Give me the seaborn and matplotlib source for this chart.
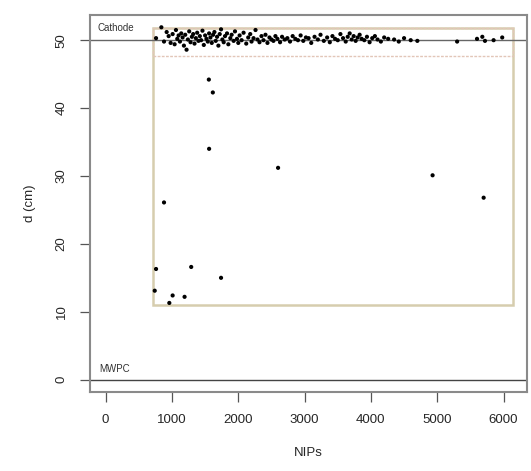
import numpy as np
import pandas as pd
import matplotlib
matplotlib.use("Agg")
import matplotlib.pyplot as plt
from matplotlib.patches import Rectangle
import seaborn as sns

# points sitting near the cathode (d ~ 50 cm)
band_nips = [760, 840, 880, 920, 950, 980,
             1010, 1040, 1060, 1080, 1100, 1120, 1140, 1160, 1180, 1200, 1220, 1240, 1260, 1280, 1300,
             1320, 1340, 1360, 1380, 1400, 1420, 1440, 1460, 1480, 1500, 1520, 1540, 1560, 1580, 1600,
             1620, 1640, 1660, 1680, 1700,
             1720, 1740, 1760, 1780, 1800, 1830, 1850, 1880, 1900, 1930, 1950, 1980, 2000, 2020, 2050, 2080,
             2120, 2150, 2180, 2200, 2230, 2260, 2290, 2320, 2350, 2380, 2410, 2440, 2470, 2500, 2530, 2560, 2590,
             2630, 2660, 2700, 2740, 2780, 2820, 2860, 2900, 2940, 2980, 3020, 3060, 3100, 3150, 3200, 3240, 3290,
             3340, 3380, 3420, 3460, 3500, 3540, 3580, 3620, 3650, 3680, 3710, 3740, 3770, 3800, 3830, 3860,
             3900, 3940, 3980, 4020, 4060, 4100, 4150, 4200, 4260,
             4350, 4420, 4500, 4600, 4700, 5300, 5600, 5680, 5720, 5850, 5980]
band_d = [50.3, 51.9, 49.8, 51.2, 50.6, 49.6,
          50.9, 49.4, 51.5, 50.2, 50.7, 49.8, 51.0, 50.4, 49.2, 50.8, 48.6, 50.1, 51.3, 49.7, 50.5,
          50.9, 49.5, 50.3, 51.1, 49.9, 50.6, 50.0, 51.4, 49.3, 50.7, 50.2, 49.8, 51.0, 50.4, 49.6,
          50.8, 51.2, 49.9, 50.5, 49.2,
          50.9, 51.6, 50.1, 49.7, 50.6, 51.0, 49.4, 50.3, 50.8, 49.9, 51.3, 50.2, 49.6, 50.7, 50.0, 51.1,
          49.5, 50.4, 50.9, 49.8, 50.3, 51.5, 50.1, 49.7, 50.6, 50.0, 50.8, 49.6, 50.4, 50.1, 49.9, 50.6, 50.2,
          49.7, 50.5, 50.1, 50.3, 49.8, 50.6, 50.2, 50.0, 50.7, 49.9, 50.4, 50.3, 49.6, 50.5, 50.1, 50.8, 49.9,
          50.4, 49.7, 50.6, 50.2, 50.0, 50.9, 50.3, 49.8, 50.5, 51.0, 50.1, 50.6, 49.9, 50.4, 50.8, 50.2,
          50.0, 50.5, 49.7, 50.3, 50.6, 50.1, 49.8, 50.4, 50.2,
          50.1, 49.8, 50.3, 50.0, 49.9, 49.8, 50.2, 50.5, 49.9, 50.0, 50.4]

# isolated points deeper in the chamber
deep_nips = [1556, 1616, 1560, 2600, 4930, 5700, 880, 760, 1290, 1740, 740, 1010, 1190, 960]
deep_d = [44.2, 42.3, 34.0, 31.2, 30.1, 26.8, 26.1, 16.3, 16.6, 15.0, 13.1, 12.4, 12.2, 11.3]

df = pd.DataFrame({"NIPs": band_nips + deep_nips, "d": band_d + deep_d})

sns.set_style("white")
plt.rcParams["font.family"] = ["Liberation Sans", "DejaVu Sans"]

fig = plt.figure(figsize=(5.31, 4.71), dpi=100)
ax = fig.add_axes([0.169, 0.168, 0.823, 0.8])

# selection box and cathode strip
ax.add_patch(Rectangle((710, 11.0), 5430, 40.8, fill=False, edgecolor="#d6cdae", linewidth=1.8, zorder=1))
ax.add_patch(Rectangle((710, 47.6), 5430, 4.2, fill=False, edgecolor="#e2c6b8", linewidth=1.0,
                       linestyle=(0, (2, 1)), zorder=1))

ax.axhline(50, color="#666666", linewidth=1.0, zorder=2)
ax.axhline(0, color="#444444", linewidth=1.0, zorder=2)

sns.scatterplot(data=df, x="NIPs", y="d", ax=ax, color="black", s=9, marker="o",
                edgecolor="none", zorder=3)

ax.text(-120, 51.0, "Cathode", fontsize=7, color="#333333", va="bottom", ha="left")
ax.text(-90, 0.8, "MWPC", fontsize=7, color="#333333", va="bottom", ha="left")

ax.set_xlim(-240, 6350)
ax.set_ylim(-1.8, 53.7)
ax.set_xticks([0, 1000, 2000, 3000, 4000, 5000, 6000])
ax.set_yticks([0, 10, 20, 30, 40, 50])
ax.tick_params(axis="both", direction="out", length=7, width=0.9, color="#555555",
               labelsize=9.5, pad=9, left=True, bottom=True)
for lab in ax.get_yticklabels():
    lab.set_rotation(90)
    lab.set_va("center")
ax.set_xlabel("NIPs", fontsize=9.5, labelpad=15)
ax.set_ylabel("d (cm)", fontsize=9.5, labelpad=14)

for sp in ax.spines.values():
    sp.set_color("#8a8a8a")
    sp.set_linewidth(1.5)

fig.savefig("out.png", dpi=100)
